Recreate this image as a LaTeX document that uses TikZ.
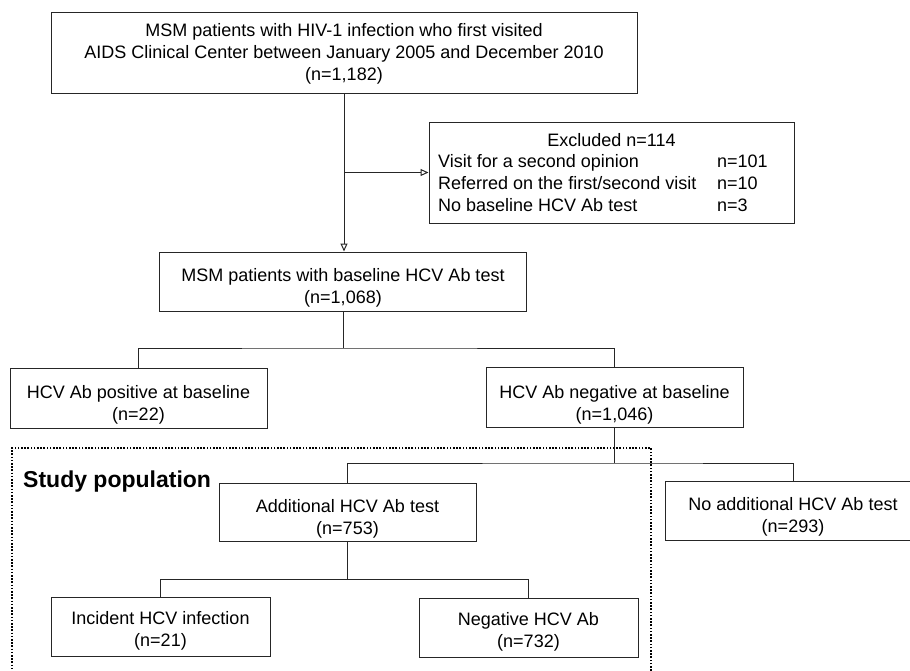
\documentclass[tikz,border=0pt]{standalone}
\usepackage{fontspec}
\setmainfont{Liberation Sans}
\usetikzlibrary{arrows.meta}
\definecolor{linec}{gray}{0.15}
\tikzset{
  box/.style={draw=linec, line width=1pt, inner sep=0pt},
  txt/.style={align=center, inner sep=0pt, font=\fontsize{18}{22}\selectfont},
  row/.style={anchor=west, inner sep=0pt, text height=13pt, text depth=4pt, font=\fontsize{18}{22}\selectfont},
  conn/.style={draw=linec, line width=1pt},
  arr/.style={conn, -{Triangle[open, length=8pt, width=7pt]}},
  studybox/.style={draw=black, line width=2pt, dash pattern=on 1.6pt off 1.6pt}
}
\begin{document}
\begin{tikzpicture}[x=1pt, y=-1pt]
\useasboundingbox (0,0) rectangle (910,670);
% boxes
\node[box, minimum width=586pt, minimum height=81pt] (top) at (344,52.5) {};
\node[box, minimum width=365pt, minimum height=101pt] (excl) at (611.5,172.5) {};
\node[box, minimum width=367pt, minimum height=59pt] (base) at (343,281.5) {};
\node[box, minimum width=257pt, minimum height=60pt] (pos) at (138.5,398) {};
\node[box, minimum width=257pt, minimum height=60pt] (neg) at (614.5,397.5) {};
\node[box, minimum width=257pt, minimum height=58pt] (add) at (347.5,512) {};
\node[box, minimum width=256pt, minimum height=59pt] (noadd) at (793,510.5) {};
\node[box, minimum width=219pt, minimum height=59pt] (inc) at (160.5,626.5) {};
\node[box, minimum width=219pt, minimum height=59pt] (negab) at (528.5,627.5) {};
% texts
\node[txt] (ttop) at (344,53.5) {MSM patients with HIV-1 infection who first visited\\AIDS Clinical Center between January 2005 and December 2010\\(n=1,182)};
\node[txt] (texh) at (611.5,140) {Excluded n=114};
\node[row] (r1) at (438,163) {Visit for a second opinion};
\node[row] (r2) at (438,185) {Referred on the first/second visit};
\node[row] (r3) at (438,207) {No baseline HCV Ab test};
\node[row] (n1) at (717,163) {n=101};
\node[row] (n2) at (717,185) {n=10};
\node[row] (n3) at (717,207) {n=3};
\node[txt] (tbase) at (343,288) {MSM patients with baseline HCV Ab test\\(n=1,068)};
\node[txt] (tpos) at (138.5,405) {HCV Ab positive at baseline\\(n=22)};
\node[txt] (tneg) at (614.5,404.5) {HCV Ab negative at baseline\\(n=1,046)};
\node[txt] (tadd) at (347.5,518.5) {Additional HCV Ab test\\(n=753)};
\node[txt] (tnoadd) at (793,517) {No additional HCV Ab test\\(n=293)};
\node[txt] (tinc) at (160.5,631) {Incident HCV infection\\(n=21)};
\node[txt] (tnegab) at (528.5,632) {Negative HCV Ab\\(n=732)};
% study population frame
\draw[studybox] (651,690) -- (651,448) -- (12,448) -- (12,690);
\node[anchor=west, inner sep=0pt, font=\fontsize{23}{27}\bfseries\selectfont] (study) at (23,482) {Study population};
% connectors
\coordinate (j1) at (343,348);
\coordinate (j2) at (614.5,463);
\coordinate (j3) at (347.5,579);
\draw[arr] (top.south) -- (top.south |- base.north);
\draw[arr] (top.south |- excl.west) -- (excl.west);
\draw[conn] (base.south) -- (j1);
\draw[conn] (pos.north) |- (j1) -| (neg.north);
\draw[conn] (neg.south) -- (j2);
\draw[conn] (add.north) |- (j2) -| (noadd.north);
\draw[conn] (add.south) -- (j3);
\draw[conn] (inc.north) |- (j3) -| (negab.north);
\end{tikzpicture}
\end{document}
